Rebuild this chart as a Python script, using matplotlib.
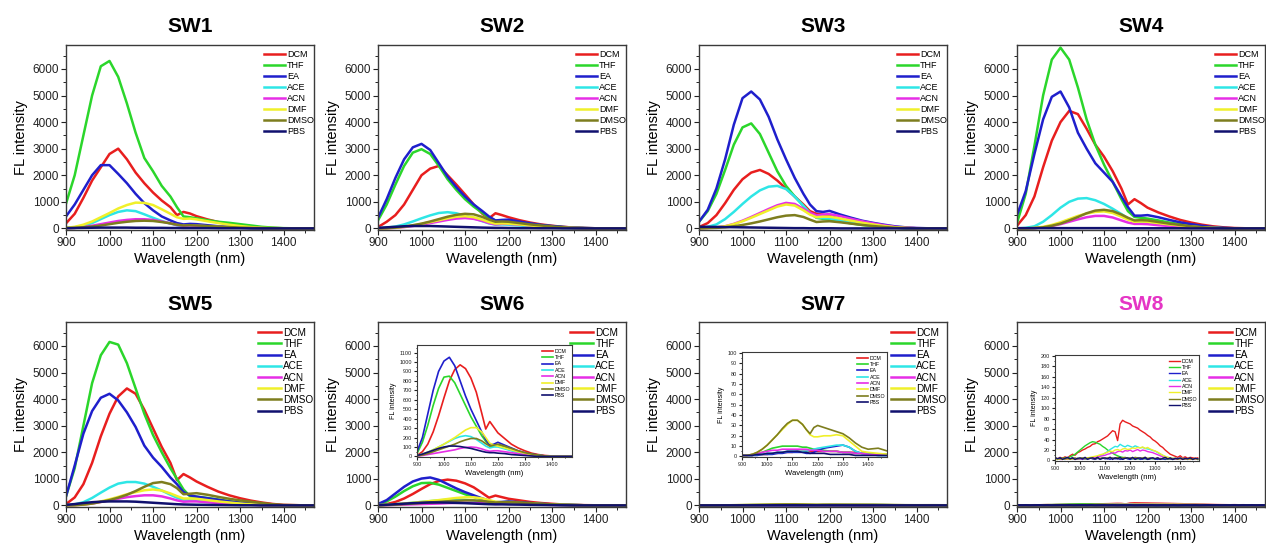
import matplotlib
matplotlib.use('Agg')
import matplotlib.pyplot as plt
from matplotlib.ticker import MultipleLocator

plt.rcParams['font.family'] = ['Liberation Sans', 'DejaVu Sans']

# wavelength grid (nm) shared by SW1-SW7
wl = [900, 920, 940, 960, 980, 1000, 1020, 1040, 1060, 1080, 1100, 1120, 1140, 1155,
      1170, 1185, 1200, 1225, 1250, 1275, 1300, 1325, 1350, 1375, 1400, 1440, 1480]
# finer grid for the noisy SW8 spectra
wl8 = list(range(900, 1471, 10))

solvents = ['DCM', 'THF', 'EA', 'ACE', 'ACN', 'DMF', 'DMSO', 'PBS']
line_colors = ['#e81e1e', '#2bd62b', '#1f1fcc', '#2ee6e6', '#e62ee6', '#f0f02a', '#7d7d1e', '#10106e']

# series order: DCM, THF, EA, ACE, ACN, DMF, DMSO, PBS
sw1 = [
    [190, 550, 1150, 1800, 2300, 2800, 3000, 2600, 2100, 1700, 1350, 1050, 800, 500, 620, 560, 460, 340, 240, 160, 100, 60, 30, 15, 5, 0, 0],
    [930, 2000, 3500, 5000, 6100, 6300, 5700, 4700, 3600, 2650, 2150, 1600, 1200, 800, 450, 420, 380, 310, 250, 210, 160, 110, 60, 30, 10, 0, 0],
    [450, 900, 1450, 2000, 2380, 2380, 2050, 1700, 1300, 950, 680, 450, 300, 200, 150, 170, 160, 120, 80, 50, 30, 20, 10, 0, 0, 0, 0],
    [20, 40, 100, 200, 350, 500, 620, 680, 650, 530, 400, 280, 180, 120, 90, 110, 100, 80, 60, 40, 25, 15, 8, 0, 0, 0, 0],
    [10, 20, 50, 100, 160, 220, 280, 320, 345, 345, 320, 260, 190, 130, 100, 110, 100, 80, 60, 40, 25, 15, 8, 0, 0, 0, 0],
    [20, 60, 140, 260, 420, 580, 750, 880, 970, 960, 880, 720, 550, 420, 360, 370, 340, 270, 200, 140, 90, 50, 25, 10, 5, 0, 0],
    [10, 20, 40, 70, 110, 160, 210, 250, 280, 290, 280, 240, 190, 140, 110, 120, 110, 90, 70, 50, 30, 20, 10, 5, 0, 0, 0],
    [10, 15, 20, 25, 30, 30, 30, 30, 25, 25, 20, 20, 15, 15, 10, 10, 10, 10, 5, 5, 5, 0, 0, 0, 0, 0, 0],
]
sw2 = [
    [50, 250, 500, 900, 1450, 2000, 2250, 2350, 2000, 1650, 1280, 900, 550, 380, 570, 500, 420, 310, 220, 150, 100, 60, 30, 15, 5, 0, 0],
    [300, 900, 1650, 2350, 2850, 2980, 2800, 2350, 1850, 1450, 1100, 820, 580, 400, 290, 280, 270, 220, 170, 120, 80, 50, 25, 10, 5, 0, 0],
    [400, 1100, 1900, 2600, 3050, 3180, 2950, 2450, 1950, 1550, 1200, 900, 650, 450, 300, 320, 330, 260, 190, 130, 90, 55, 30, 15, 5, 0, 0],
    [10, 30, 70, 150, 260, 380, 490, 580, 610, 570, 480, 380, 270, 190, 140, 150, 140, 110, 80, 55, 35, 20, 10, 5, 0, 0, 0],
    [0, 10, 20, 50, 90, 140, 200, 260, 320, 370, 390, 360, 280, 200, 150, 170, 170, 140, 110, 80, 50, 30, 15, 5, 0, 0, 0],
    [0, 10, 25, 60, 110, 170, 240, 310, 380, 440, 460, 420, 330, 240, 180, 190, 180, 150, 110, 80, 50, 30, 15, 5, 0, 0, 0],
    [0, 10, 30, 70, 120, 180, 260, 350, 440, 510, 550, 530, 430, 330, 250, 260, 250, 200, 150, 110, 70, 40, 20, 10, 0, 0, 0],
    [20, 40, 60, 80, 90, 90, 90, 80, 70, 60, 50, 40, 30, 25, 20, 20, 15, 10, 10, 5, 5, 0, 0, 0, 0, 0, 0],
]
sw3 = [
    [50, 200, 500, 950, 1450, 1850, 2100, 2200, 2050, 1800, 1500, 1200, 900, 650, 550, 520, 470, 350, 250, 170, 110, 70, 35, 15, 5, 0, 0],
    [250, 650, 1300, 2200, 3150, 3800, 3950, 3550, 2850, 2150, 1600, 1200, 850, 580, 400, 360, 340, 260, 190, 130, 90, 55, 30, 10, 5, 0, 0],
    [250, 700, 1500, 2600, 3900, 4900, 5150, 4850, 4200, 3350, 2600, 1900, 1300, 900, 650, 620, 660, 520, 400, 290, 210, 140, 80, 40, 15, 0, 0],
    [20, 60, 150, 350, 620, 920, 1200, 1430, 1570, 1600, 1480, 1200, 850, 580, 420, 390, 380, 290, 210, 150, 100, 60, 30, 10, 5, 0, 0],
    [10, 20, 40, 80, 170, 290, 430, 580, 730, 870, 960, 920, 740, 590, 490, 520, 540, 460, 360, 270, 190, 120, 60, 25, 10, 0, 0],
    [10, 20, 40, 80, 160, 270, 400, 540, 680, 820, 900, 860, 680, 520, 420, 440, 440, 370, 290, 210, 150, 90, 45, 20, 5, 0, 0],
    [0, 10, 20, 40, 80, 130, 190, 260, 340, 420, 480, 500, 430, 330, 240, 260, 270, 230, 180, 130, 90, 55, 25, 10, 0, 0, 0],
    [60, 60, 55, 50, 45, 40, 35, 30, 25, 20, 15, 10, 10, 5, 5, 5, 5, 0, 0, 0, 0, 0, 0, 0, 0, 0, 0],
]
sw4 = [
    [100, 500, 1200, 2300, 3300, 4000, 4420, 4300, 3750, 3150, 2700, 2150, 1500, 900, 1100, 950, 780, 600, 450, 320, 220, 140, 80, 40, 15, 0, 0],
    [200, 1300, 3100, 5000, 6350, 6800, 6350, 5300, 4100, 3150, 2400, 1750, 1100, 650, 430, 400, 370, 300, 220, 160, 100, 60, 30, 10, 5, 0, 0],
    [500, 1400, 2800, 4100, 4950, 5150, 4550, 3600, 3000, 2450, 2100, 1750, 1200, 800, 480, 480, 500, 420, 320, 230, 160, 100, 50, 20, 5, 0, 0],
    [0, 20, 80, 250, 500, 780, 1000, 1120, 1140, 1060, 920, 740, 540, 380, 270, 260, 240, 190, 140, 100, 60, 35, 15, 5, 0, 0, 0],
    [0, 0, 10, 40, 90, 160, 250, 340, 420, 470, 470, 410, 300, 220, 170, 170, 160, 120, 90, 60, 40, 20, 10, 5, 0, 0, 0],
    [0, 0, 20, 60, 130, 230, 350, 470, 560, 620, 640, 580, 440, 330, 250, 260, 250, 200, 150, 110, 70, 40, 20, 5, 0, 0, 0],
    [0, 0, 10, 40, 100, 180, 300, 430, 570, 670, 700, 650, 520, 400, 300, 310, 300, 240, 180, 130, 80, 45, 20, 5, 0, 0, 0],
    [10, 10, 10, 10, 10, 10, 10, 10, 10, 10, 10, 10, 10, 5, 5, 5, 5, 5, 5, 5, 0, 0, 0, 0, 0, 0, 0],
]
sw5 = [
    [50, 300, 800, 1600, 2600, 3450, 4100, 4400, 4200, 3600, 2900, 2200, 1600, 950, 1180, 1050, 900, 700, 520, 380, 270, 180, 110, 55, 20, 5, 0],
    [340, 1400, 3000, 4600, 5650, 6150, 6050, 5350, 4400, 3450, 2650, 2000, 1400, 1000, 600, 340, 330, 280, 220, 160, 110, 70, 40, 15, 5, 0, 0],
    [340, 1500, 2700, 3550, 4050, 4200, 3950, 3500, 2950, 2250, 1800, 1450, 1050, 800, 500, 380, 330, 270, 210, 150, 100, 60, 35, 15, 5, 0, 0],
    [10, 40, 120, 280, 480, 670, 820, 880, 880, 820, 700, 560, 400, 290, 210, 200, 190, 150, 110, 80, 50, 30, 15, 5, 0, 0, 0],
    [0, 10, 30, 70, 130, 190, 250, 310, 350, 380, 380, 340, 260, 190, 140, 150, 150, 120, 90, 60, 40, 25, 10, 5, 0, 0, 0],
    [0, 10, 30, 80, 150, 230, 320, 420, 500, 570, 600, 560, 450, 350, 260, 260, 250, 200, 150, 110, 70, 40, 20, 10, 0, 0, 0],
    [0, 10, 30, 70, 130, 200, 290, 400, 540, 700, 840, 880, 800, 650, 420, 440, 460, 400, 320, 250, 190, 140, 90, 40, 15, 5, 0],
    [20, 50, 90, 120, 140, 150, 150, 150, 140, 120, 100, 80, 60, 45, 35, 30, 25, 20, 15, 10, 5, 5, 0, 0, 0, 0, 0],
]
sw6 = [
    [10, 50, 130, 260, 430, 620, 800, 920, 970, 930, 830, 680, 460, 290, 370, 310, 250, 190, 130, 90, 60, 35, 20, 10, 5, 0, 0],
    [30, 150, 330, 540, 720, 840, 850, 780, 660, 540, 420, 320, 220, 160, 110, 110, 120, 100, 70, 50, 30, 20, 10, 5, 0, 0, 0],
    [50, 200, 450, 700, 900, 1010, 1050, 960, 800, 640, 500, 380, 260, 180, 120, 130, 150, 120, 90, 60, 40, 25, 15, 5, 0, 0, 0],
    [10, 25, 45, 70, 100, 130, 160, 190, 210, 220, 210, 180, 140, 110, 90, 100, 100, 80, 60, 40, 25, 15, 10, 5, 0, 0, 0],
    [5, 10, 20, 30, 40, 50, 60, 70, 85, 95, 100, 95, 80, 65, 55, 60, 60, 50, 40, 30, 20, 10, 5, 0, 0, 0, 0],
    [10, 25, 45, 70, 100, 130, 165, 200, 240, 280, 305, 305, 260, 200, 140, 120, 110, 90, 70, 50, 35, 20, 10, 5, 0, 0, 0],
    [5, 15, 30, 50, 70, 90, 110, 130, 155, 175, 190, 190, 165, 135, 110, 120, 130, 110, 85, 60, 40, 25, 15, 5, 0, 0, 0],
    [10, 25, 45, 65, 85, 100, 110, 110, 105, 95, 85, 70, 55, 45, 40, 40, 35, 30, 20, 15, 10, 5, 0, 0, 0, 0, 0],
]
sw7 = [
    [1, 1, 1, 2, 2, 2, 3, 3, 4, 4, 4, 5, 5, 5, 5, 5, 5, 5, 5, 5, 4, 4, 4, 3, 3, 2, 2],
    [1, 1, 2, 3, 4, 6, 8, 9, 10, 10, 10, 10, 9, 9, 8, 7, 7, 6, 5, 5, 4, 4, 3, 3, 3, 2, 2],
    [1, 1, 1, 1, 2, 2, 2, 3, 3, 4, 4, 4, 4, 3, 3, 4, 6, 8, 9, 10, 11, 9, 5, 3, 2, 1, 1],
    [1, 1, 1, 2, 2, 3, 3, 4, 4, 5, 5, 5, 5, 5, 6, 7, 8, 9, 10, 11, 11, 9, 5, 3, 2, 1, 1],
    [1, 1, 2, 3, 4, 5, 6, 6, 7, 7, 7, 7, 7, 7, 6, 6, 6, 5, 5, 5, 4, 4, 3, 3, 2, 2, 1],
    [1, 1, 2, 4, 7, 11, 16, 21, 26, 31, 35, 35, 31, 26, 21, 19, 19, 20, 20, 21, 20, 15, 10, 5, 4, 3, 2],
    [1, 1, 2, 4, 7, 11, 16, 21, 27, 32, 35, 35, 31, 26, 22, 28, 30, 28, 26, 24, 22, 18, 13, 9, 7, 8, 5],
    [1, 1, 1, 2, 2, 3, 3, 4, 4, 5, 5, 5, 4, 4, 3, 3, 3, 3, 2, 2, 2, 2, 1, 1, 1, 1, 1],
]
sw8 = [
    [5, 3, 6, 4, 7, 5, 9, 12, 10, 15,
     17, 20, 22, 25, 27, 31, 32, 36, 38, 41,
     44, 47, 52, 57, 55, 38, 70, 77, 74, 72,
     70, 66, 64, 62, 58, 55, 52, 48, 45, 40,
     37, 33, 28, 25, 20, 16, 12, 10, 8, 6,
     9, 5, 7, 4, 6, 5, 4, 5],
    [3, 2, 4, 3, 5, 4, 7, 9, 12, 16,
     20, 24, 28, 31, 34, 36, 35, 33, 31, 27,
     24, 20, 17, 14, 11, 9, 7, 6, 5, 4,
     4, 3, 4, 3, 3, 4, 3, 3, 4, 3,
     3, 4, 3, 3, 2, 3, 3, 2, 3, 3,
     2, 3, 3, 2, 3, 2, 3, 2],
    [4, 2, 5, 3, 2, 4, 3, 5, 2, 4,
     3, 2, 4, 3, 5, 3, 2, 4, 3, 5,
     3, 4, 2, 5, 3, 4, 2, 3, 5, 3,
     2, 4, 3, 5, 2, 3, 4, 2, 3, 5,
     3, 2, 4, 3, 2, 4, 3, 2, 3, 4,
     2, 3, 4, 2, 3, 2, 3, 2],
    [2, 3, 2, 3, 2, 3, 3, 2, 3, 3,
     3, 4, 3, 4, 5, 5, 6, 7, 9, 11,
     14, 17, 21, 24, 27, 26, 31, 28, 26, 29,
     27, 25, 28, 26, 24, 25, 23, 22, 21, 19,
     18, 15, 12, 10, 7, 6, 5, 4, 4, 3,
     3, 4, 3, 3, 4, 3, 3, 3],
    [2, 3, 2, 2, 3, 2, 3, 3, 2, 3,
     3, 3, 4, 4, 5, 5, 6, 7, 8, 9,
     10, 12, 13, 15, 14, 17, 18, 16, 19, 18,
     20, 17, 19, 21, 18, 20, 19, 17, 16, 15,
     13, 11, 9, 7, 6, 5, 4, 4, 3, 3,
     3, 2, 3, 3, 2, 3, 2, 3],
    [2, 2, 3, 2, 3, 3, 2, 3, 3, 4,
     4, 4, 5, 5, 6, 7, 8, 9, 11, 12,
     14, 16, 18, 17, 20, 21, 19, 22, 23, 21,
     22, 24, 23, 25, 24, 26, 23, 25, 22, 20,
     18, 16, 13, 10, 8, 6, 5, 4, 4, 3,
     3, 4, 3, 3, 2, 3, 3, 2],
    [3, 4, 3, 5, 3, 4, 3, 4, 5, 3,
     4, 5, 3, 4, 5, 4, 3, 5, 4, 5,
     4, 5, 6, 4, 5, 6, 4, 5, 6, 4,
     5, 4, 6, 5, 4, 5, 6, 4, 5, 4,
     4, 5, 3, 4, 5, 3, 4, 3, 4, 3,
     4, 3, 3, 4, 3, 3, 4, 3],
    [6, 3, 5, 2, 4, 6, 3, 5, 2, 4,
     5, 3, 6, 2, 4, 5, 3, 6, 2, 4,
     5, 3, 6, 2, 5, 3, 6, 2, 4, 5,
     3, 6, 2, 4, 5, 3, 6, 2, 4, 5,
     3, 5, 2, 4, 6, 3, 5, 2, 4, 3,
     5, 2, 4, 3, 5, 2, 4, 3],
]

titles = ['SW1', 'SW2', 'SW3', 'SW4', 'SW5', 'SW6', 'SW7', 'SW8']
spectra = [sw1, sw2, sw3, sw4, sw5, sw6, sw7, sw8]
grids = [wl, wl, wl, wl, wl, wl, wl, wl8]

W, H = 1266, 547
col_left = [66, 378, 699, 1017]
row_top = [45, 322]
ax_w, ax_h = 248, 185

# inset boxes in pixels: left, top, right, bottom, y max, y step
inset_box = {
    'SW6': (417, 345, 572, 457, 1180, 100),
    'SW7': (742, 352, 887, 457, 101, 10),
    'SW8': (1055, 355, 1199, 461, 202, 20),
}


def px_rect(l, t, r, b):
    return [l / W, 1 - b / H, (r - l) / W, (b - t) / H]


def style_axes(ax, fs, lw_spine=1.0, major=3.5, minor=2.0):
    for s in ax.spines.values():
        s.set_linewidth(lw_spine)
        s.set_color('#3a3a3a')
    ax.tick_params(which='major', direction='out', length=major, width=0.8,
                   labelsize=fs, pad=1.5, colors='#222222')
    ax.tick_params(which='minor', direction='out', length=minor, width=0.6)


fig = plt.figure(figsize=(W / 100, H / 100), dpi=100)

for i, (name, data, xs) in enumerate(zip(titles, spectra, grids)):
    r, c = divmod(i, 4)
    l = col_left[c]
    t = row_top[r]
    ax = fig.add_axes(px_rect(l, t, l + ax_w, t + ax_h))
    for ys, lab, col in zip(data, solvents, line_colors):
        ax.plot(xs, ys, color=col, lw=1.8, label=lab, solid_joinstyle='round')
    ax.set_xlim(900, 1470)
    ax.set_ylim(-60, 6900)
    ax.xaxis.set_major_locator(MultipleLocator(100))
    ax.xaxis.set_minor_locator(MultipleLocator(50))
    ax.yaxis.set_major_locator(MultipleLocator(1000))
    ax.yaxis.set_minor_locator(MultipleLocator(500))
    style_axes(ax, 8.5)
    ax.set_xlabel('Wavelength (nm)', fontsize=10.5, labelpad=2)
    ax.set_ylabel('FL intensity', fontsize=10.5, labelpad=3)
    ax.set_title(name, fontsize=15, fontweight='bold', pad=9,
                 color='#e535c5' if name == 'SW8' else 'black')
    leg_fs = 6.5 if r == 0 else 7.2
    ax.legend(loc='upper right', bbox_to_anchor=(1.01, 0.985), frameon=False,
              fontsize=leg_fs, handlelength=2.3, handletextpad=0.25,
              labelspacing=0.22 if r == 0 else 0.12, borderpad=0.2, borderaxespad=0.1)

    if name in inset_box:
        il, it, ir, ib, ymax, ystep = inset_box[name]
        ins = fig.add_axes(px_rect(il, it, ir, ib))
        for ys, lab, col in zip(data, solvents, line_colors):
            ins.plot(xs, ys, color=col, lw=1.0 if name == 'SW8' else 1.2, label=lab)
        ins.set_xlim(900, 1475)
        ins.set_ylim(-ymax * 0.005, ymax)
        ins.xaxis.set_major_locator(MultipleLocator(100))
        ins.xaxis.set_minor_locator(MultipleLocator(50))
        ins.yaxis.set_major_locator(MultipleLocator(ystep))
        ins.yaxis.set_minor_locator(MultipleLocator(ystep / 2))
        style_axes(ins, 4, lw_spine=0.8, major=2, minor=1)
        ins.set_xlabel('Wavelength (nm)', fontsize=5.5, labelpad=2)
        ins.set_ylabel('FL intensity', fontsize=5, labelpad=2)
        ins.legend(loc='upper right', bbox_to_anchor=(1.0, 0.98), frameon=False,
                   fontsize=3.8, handlelength=2.2, handletextpad=0.3,
                   labelspacing=0.25, borderpad=0.2, borderaxespad=0.1)

fig.savefig('out.png', dpi=100)
